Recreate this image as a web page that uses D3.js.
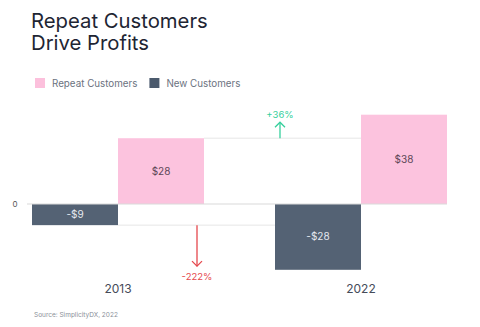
<!DOCTYPE html>
<html>
<head>
<meta charset="utf-8">
<script src="https://cdn.jsdelivr.net/npm/d3@7"></script>
<style>
  html, body { margin: 0; padding: 0; background: #fff; }
  svg { display: block; font-family: Inter, "Noto Sans", sans-serif; }
</style>
</head>
<body>
<svg id="chart"></svg>
<script>
const years = ['2013', '2022'];
const seriesNames = ['New Customers', 'Repeat Customers'];
const legendOrder = ['Repeat Customers', 'New Customers'];
const newValues = [-9, -28];
const repeatValues = [28, 38];
const changeLabels = ['+36%', '-222%'];

const W = 480, H = 327;
const colors = { 'Repeat Customers': '#fcc0dc', 'New Customers': '#4b5a6d' };

const svg = d3.select('#chart').attr('width', W).attr('height', H);

// title
svg.append('text').attr('x', 31).attr('y', 28)
    .attr('font-size', 20.3).attr('fill', '#1e2533').text('Repeat Customers');
svg.append('text').attr('x', 31).attr('y', 50)
    .attr('font-size', 20.3).attr('fill', '#1e2533').text('Drive Profits');

// legend
const legend = svg.append('g');
let lx = 35;
legendOrder.forEach(name => {
    legend.append('rect').attr('x', lx).attr('y', 78).attr('width', 10).attr('height', 10)
        .attr('fill', colors[name]);
    const t = legend.append('text').attr('x', lx + 17).attr('y', 86.5)
        .attr('font-size', 9.8).attr('fill', '#6b7280').text(name);
    lx += 17 + t.node().getComputedTextLength() + 12;
});

const x0 = d3.scaleBand().domain(years).range([32, 447]).paddingInner(71 / 243).paddingOuter(0);
const x1 = d3.scaleBand().domain(seriesNames).range([0, x0.bandwidth()]);
const y = d3.scaleLinear().domain([-30, 40]).range([204 + 30 * 2.35, 204 - 40 * 2.35]);

const data = years.map((yr, i) => ({
    year: yr,
    values: [
        { key: 'New Customers', value: newValues[i] },
        { key: 'Repeat Customers', value: repeatValues[i] }
    ]
}));

// connector lines
const grid = svg.append('g').attr('stroke', '#e6e6e6').attr('stroke-width', 1);
grid.append('line')
    .attr('x1', x0('2013') + x1('Repeat Customers') + x1.bandwidth()).attr('x2', x0('2022') + x0.bandwidth())
    .attr('y1', y(repeatValues[0])).attr('y2', y(repeatValues[0]));
grid.append('line')
    .attr('x1', x0('2013') + x1('New Customers') + x1.bandwidth()).attr('x2', x0('2022') + x1('New Customers') + x1.bandwidth())
    .attr('y1', y(newValues[0])).attr('y2', y(newValues[0]));

// bars
const groups = svg.selectAll('g.group').data(data).join('g')
    .attr('class', 'group')
    .attr('transform', d => `translate(${x0(d.year)},0)`);

groups.selectAll('rect').data(d => d.values).join('rect')
    .attr('x', d => x1(d.key))
    .attr('width', x1.bandwidth())
    .attr('y', d => y(Math.max(0, d.value)))
    .attr('height', d => Math.abs(y(d.value) - y(0)))
    .attr('fill', d => colors[d.key])
    .attr('fill-opacity', 0.95);

groups.selectAll('text.val').data(d => d.values).join('text')
    .attr('class', 'val')
    .attr('x', d => x1(d.key) + x1.bandwidth() / 2)
    .attr('y', d => (y(d.value) + y(0)) / 2 + 3.5)
    .attr('text-anchor', 'middle')
    .attr('font-size', 10)
    .attr('fill', d => d.value < 0 ? '#e4e8ef' : '#5b4656')
    .text(d => (d.value < 0 ? '-$' : '$') + Math.abs(d.value));

// zero line
svg.append('line').attr('x1', 27).attr('x2', 447)
    .attr('y1', y(0)).attr('y2', y(0))
    .attr('stroke', '#d9d9d9').attr('stroke-width', 1.2);
svg.append('text').attr('x', 15).attr('y', y(0) + 3)
    .attr('text-anchor', 'middle').attr('font-size', 8).attr('fill', '#555').text('0');

// year labels
svg.selectAll('text.year').data(years).join('text')
    .attr('class', 'year')
    .attr('x', d => x0(d) + x0.bandwidth() / 2)
    .attr('y', 293)
    .attr('text-anchor', 'middle')
    .attr('font-size', 12)
    .attr('fill', '#454b59')
    .text(d => d);

// change arrows
function arrow(x, yFrom, yTo, color) {
    const g = svg.append('g').attr('stroke', color).attr('stroke-width', 1.3).attr('fill', 'none');
    g.append('line').attr('x1', x).attr('x2', x).attr('y1', yFrom).attr('y2', yTo);
    const dir = yTo < yFrom ? 1 : -1;
    g.append('path').attr('d', `M${x - 5},${yTo + dir * 5}L${x},${yTo}L${x + 5},${yTo + dir * 5}`);
}
const upX = x0('2022') + 5;
const upY = y(repeatValues[0]);
arrow(upX, upY, upY - 16, '#35cf9c');
svg.append('text').attr('x', upX).attr('y', upY - 20)
    .attr('text-anchor', 'middle').attr('font-size', 9.5).attr('fill', '#35cf9c').text(changeLabels[0]);

const downX = x0('2013') + x0.bandwidth() - 7;
const downY = y(newValues[0]);
arrow(downX, downY, downY + 41, '#e5484d');
svg.append('text').attr('x', downX).attr('y', downY + 55)
    .attr('text-anchor', 'middle').attr('font-size', 9.5).attr('fill', '#e5484d').text(changeLabels[1]);

// source
svg.append('text').attr('x', 34).attr('y', 317)
    .attr('font-size', 6.5).attr('fill', '#8a8f98').text('Source: SimplicityDX, 2022');
</script>
</body>
</html>
